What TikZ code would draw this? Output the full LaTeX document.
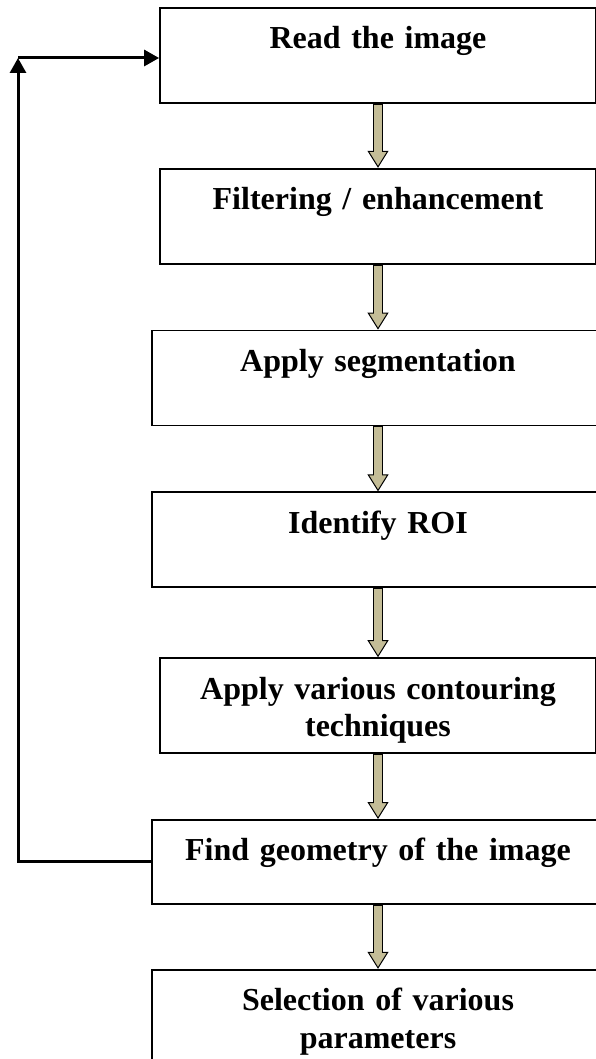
\documentclass[tikz,border=0pt]{standalone}
\usepackage{fontspec}
\setmainfont{Liberation Serif}
\usetikzlibrary{positioning, arrows.meta}

\definecolor{tanfill}{HTML}{C4BD97}

\tikzset{
  stage/.style={draw, line width=1.8pt, inner sep=0pt, align=center,
    text width=436pt, text height=41pt, text depth=54pt,
    font=\bfseries\fontsize{32}{37.5}\selectfont},
  wide/.style={text width=452pt},
  flowarrow/.style={line width=10pt,
    -{Triangle[width=21pt, length=17pt, fill=tanfill, line width=1pt 0]},
    postaction={draw=tanfill, line width=8pt, -, shorten >=14pt, shorten <=1pt}},
  loopline/.style={line width=3pt, -{Triangle[width=16pt, length=15pt]}}
}

\begin{document}
\begin{tikzpicture}
\useasboundingbox (0,0) rectangle (595pt,-1059pt);
% steps of the pipeline
\node[stage, anchor=north] (read) at (378pt,-7pt) {Read the image};
\node[stage, below=64pt of read] (filter) {Filtering / enhancement};
\node[stage, wide, below=65pt of filter] (segment) {Apply segmentation};
\node[stage, wide, below=65pt of segment] (roi) {Identify ROI};
\node[stage, below=69pt of roi] (contour) {Apply various contouring\\techniques};
\node[stage, wide, text depth=43pt, below=65pt of contour] (geom) {Find geometry of the image};
\node[stage, wide, text depth=150pt, below=64pt of geom] (select) {Selection of various\\parameters};
\foreach \from/\to in {read/filter,filter/segment,segment/roi,roi/contour,contour/geom,geom/select}
  \draw[flowarrow] (\from) -- (\to);
% feedback loop
\coordinate (corner) at (18pt,-58pt);
\draw[loopline] (geom.west) -| (corner);
\draw[loopline] (corner) -- (corner -| read.west);
\end{tikzpicture}
\end{document}
